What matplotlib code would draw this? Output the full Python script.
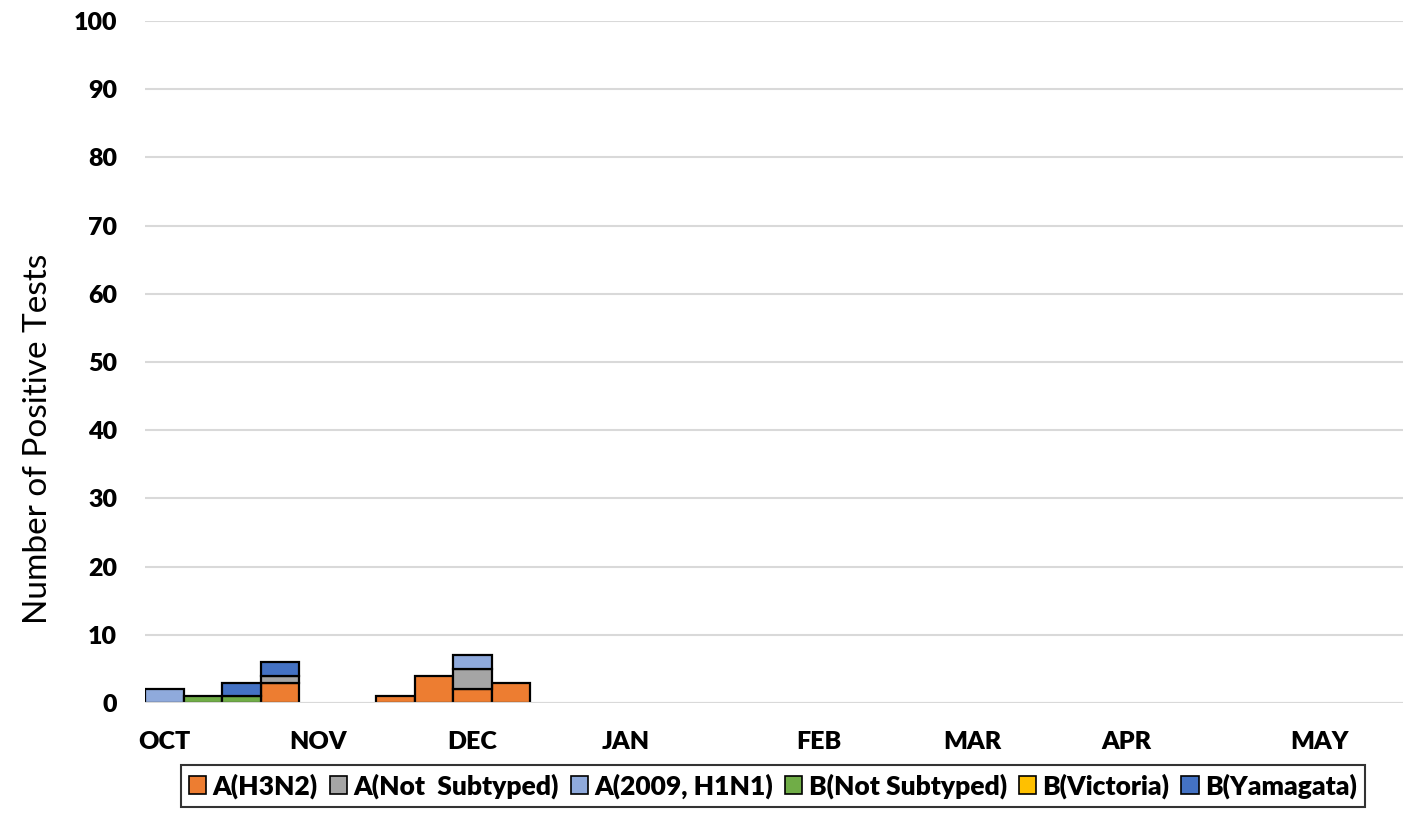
import numpy as np
import matplotlib
matplotlib.use('Agg')
from matplotlib import pyplot as plt

plt.rcParams.update({'font.family': ['Lato', 'DejaVu Sans'],
                     'font.weight': 'heavy'})

# weekly counts, week 40 through week 20 (33 weeks)
week_labels = ['OCT', '', '', '', 'NOV', '', '', '', 'DEC', '', '', '', 'JAN',
               '', '', '', '', 'FEB', '', '', '', 'MAR', '', '', '', 'APR',
               '', '', '', '', 'MAY', '', '']
n_weeks = len(week_labels)

h3n2 = [0, 0, 0, 3, 0, 0, 1, 4, 2, 3] + [0] * 23
a_not_sub = [0, 0, 0, 1, 0, 0, 0, 0, 3, 0] + [0] * 23
h1n1 = [2, 0, 0, 0, 0, 0, 0, 0, 2, 0] + [0] * 23
b_not_sub = [0, 1, 1, 0, 0, 0, 0, 0, 0, 0] + [0] * 23
b_victoria = [0] * 33
b_yamagata = [0, 0, 2, 2, 0, 0, 0, 0, 0, 0] + [0] * 23

series = [
    ('A(H3N2)', h3n2, '#ED7D31'),
    ('A(Not  Subtyped)', a_not_sub, '#A5A5A5'),
    ('A(2009, H1N1)', h1n1, '#8FAADC'),
    ('B(Not Subtyped)', b_not_sub, '#70AD47'),
    ('B(Victoria)', b_victoria, '#FFC000'),
    ('B(Yamagata)', b_yamagata, '#4472C4'),
]

fig = plt.figure(figsize=(14.03, 8.39), dpi=100)
ax = fig.add_axes([145 / 1403, 136 / 839, 1 - 145 / 1403, (703 - 21) / 839])

x = np.arange(n_weeks)
bottom = np.zeros(n_weeks)
for name, vals, col in series:
    vals = np.array(vals, dtype=float)
    # no outline on empty weeks
    lws = np.where(vals > 0, 1.6, 0.0)
    ax.bar(x, vals, width=1.0, bottom=bottom, color=col, edgecolor='black',
           linewidth=lws, label=name, zorder=2)
    bottom += vals

ax.set_ylim(0, 100)
ax.set_yticks(range(0, 101, 10))
ax.set_yticklabels([str(v) for v in range(0, 101, 10)], fontweight='heavy')
ax.set_xlim(-0.5, (1403 - 145) / 38.5 - 0.5)
ax.set_xticks(x)
ax.set_xticklabels(week_labels, fontweight='heavy')

ax.grid(axis='y', color='#D9D9D9', linewidth=1.5, zorder=0)
ax.axhline(0, color='#D9D9D9', linewidth=1.5, zorder=3)
for s in ax.spines.values():
    s.set_visible(False)
ax.tick_params(axis='both', length=0, labelsize=18)
ax.tick_params(axis='x', pad=20)
ax.tick_params(axis='y', pad=20)

ax.set_ylabel('Number of Positive Tests', fontsize=24, fontweight='normal')
ax.yaxis.set_label_coords(-0.073, 0.387)

leg = fig.legend(loc='center', bbox_to_anchor=(773 / 1403, 53 / 839), ncol=6,
                 frameon=True, fancybox=False, edgecolor='black',
                 prop={'weight': 'heavy', 'size': 19},
                 handlelength=0.65, handleheight=0.65, handletextpad=0.25,
                 columnspacing=0.45, borderpad=0.3, borderaxespad=0)
leg.get_frame().set_linewidth(1.5)
for h in leg.legend_handles:
    h.set_linewidth(1.2)

plt.savefig('out.png', dpi=100)
